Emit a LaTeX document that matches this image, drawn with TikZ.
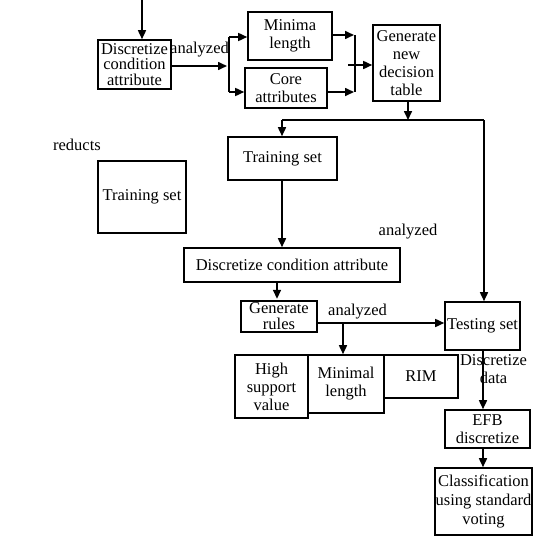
\documentclass[tikz,border=0pt]{standalone}
\usepackage{fontspec}
\setmainfont{Liberation Serif}
\usetikzlibrary{arrows.meta}
\begin{document}
\begin{tikzpicture}[x=1pt,y=-1pt,
  box/.style={draw,line width=1.6pt,inner sep=0pt,align=center,font=\fontsize{16.5}{18}\selectfont},
  lbl/.style={inner sep=0pt,align=center,font=\fontsize{16.5}{18}\selectfont},
  arr/.style={line width=1.6pt,-{Triangle[length=9pt,width=8pt]}},
  ln/.style={line width=1.6pt}]
\useasboundingbox (0,0) rectangle (537,535);
% boxes
\node[box,minimum width=73pt,minimum height=49pt,font=\fontsize{16.5}{15.5}\selectfont] (disc1) at (134.5,64.5) {Discretize\\condition\\attribute};
\node[box,minimum width=84pt,minimum height=48pt] (minima) at (290,36) {Minima\\length};
\node[box,minimum width=82pt,minimum height=40pt] (core) at (286,88) {Core\\attributes};
\node[box,minimum width=67pt,minimum height=76pt] (gen) at (406.5,63) {Generate\\new\\decision\\table};
\node[box,minimum width=109pt,minimum height=43pt] (train) at (282.5,158.5) {Training set};
\node[box,minimum width=88pt,minimum height=72pt] (trainL) at (142,197) {Training set};
\node[box,minimum width=216pt,minimum height=34pt] (disc2) at (292,265) {Discretize condition attribute};
\node[box,minimum width=76pt,minimum height=31pt,font=\fontsize{16.5}{16}\selectfont] (rules) at (279,316.5) {Generate\\rules};
\node[box,minimum width=75pt,minimum height=48pt] (test) at (482.5,326) {Testing set};
\node[box,minimum width=73pt,minimum height=63pt] (high) at (271.5,386.5) {High\\support\\value};
\node[box,minimum width=76pt,minimum height=58pt] (minimal) at (346,384) {Minimal\\length};
\node[box,minimum width=74pt,minimum height=43pt] (rim) at (421,376.5) {RIM};
\node[box,minimum width=85pt,minimum height=38pt] (efb) at (487.5,429) {EFB\\discretize};
\node[box,minimum width=97pt,minimum height=67pt,font=\fontsize{16.5}{19}\selectfont] (cls) at (483.5,501.5) {Classification\\using standard\\voting};
% labels
\node[lbl] (l1) at (199.5,50) {analyzed};
\node[lbl] (l2) at (77,145) {reducts};
\node[lbl] (l3) at (408,232) {analyzed};
\node[lbl] (l4) at (357.5,312) {analyzed};
\node[lbl] (l5) at (493.5,369) {Discretize\\data};
% coordinates
\coordinate (top) at (142,0);
\coordinate (s1) at (227,66);
\coordinate (sv1) at (229,37);
\coordinate (sv2) at (229,92);
\coordinate (m1) at (354,35);
\coordinate (m2) at (354,92);
\coordinate (mv1) at (355,35);
\coordinate (mv2) at (355,92);
\coordinate (m3) at (348,65);
\coordinate (g1) at (408,120);
\coordinate (hl) at (282,120);
\coordinate (hr) at (484,120);
\coordinate (br) at (343,323);
\coordinate (tv) at (282,0);
% connectors
\draw[arr] (top) -- (top |- disc1.north);
\draw[arr] (disc1.east |- s1) -- (s1);
\draw[ln] (sv1) -- (sv2);
\draw[arr] (sv1) -- (sv1 -| minima.west);
\draw[arr] (sv2) -- (sv2 -| core.west);
\draw[arr] (minima.east |- m1) -- (m1);
\draw[arr] (core.east |- m2) -- (m2);
\draw[ln] (mv1) -- (mv2);
\draw[arr] (m3) -- (m3 -| gen.west);
\draw[arr] (g1 |- gen.south) -- (g1);
\draw[ln] (hl) -- (hr);
\draw[arr] (hl) -- (hl |- train.north);
\draw[arr] (hr) -- (hr |- test.north);
\draw[arr] (tv |- train.south) -- (tv |- disc2.north);
\draw[arr] (disc2.south -| rules.north) ++(-2,0) -- ++(0,16);
\draw[arr] (rules.east |- br) -- (br -| test.west);
\draw[arr] (br) -- (br |- minimal.north);
\draw[arr] (test.south -| hr) ++(-1,0) -- (efb.north -| 483,0);
\draw[arr] (efb.south -| 483,0) -- (cls.north -| 483,0);
\end{tikzpicture}
\end{document}
